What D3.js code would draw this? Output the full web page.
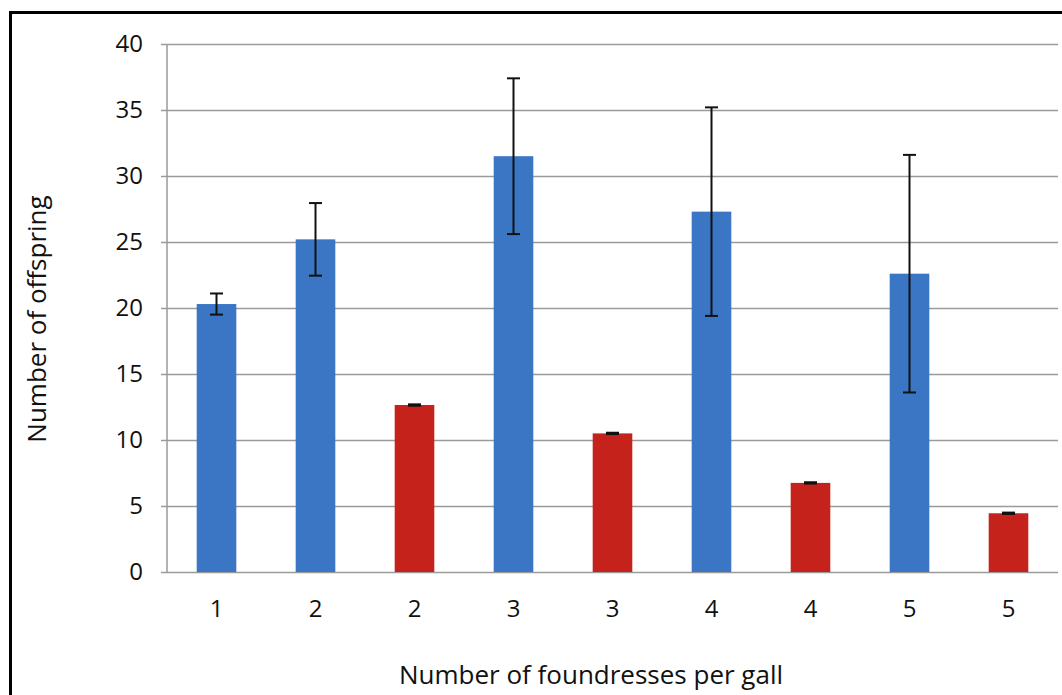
<!DOCTYPE html>
<html>
<head>
<meta charset="utf-8">
<script src="https://cdn.jsdelivr.net/npm/d3@7.9.0/dist/d3.min.js"></script>
<style>
  body { margin: 0; background: #fff; }
  svg { display: block; }
  svg text { font-family: 'Open Sans', sans-serif; }
</style>
</head>
<body>
<svg id="chart" width="1062" height="695"></svg>
<script>
// DATA
const categories = ['1', '2', '2', '3', '3', '4', '4', '5', '5'];
const groups = ['blue', 'blue', 'red', 'blue', 'red', 'blue', 'red', 'blue', 'red'];
const means = [20.3, 25.2, 12.65, 31.5, 10.5, 27.3, 6.75, 22.6, 4.45];
const errors = [0.8, 2.75, 0.05, 5.9, 0.05, 7.9, 0.05, 9.0, 0.05];
const yTicks = [0, 5, 10, 15, 20, 25, 30, 35, 40];

const colors = { blue: '#3b76c4', red: '#c4221b' };
const font = "'Open Sans', sans-serif";

const svg = d3.select('#chart');
const margin = { left: 167, top: 44, right: 4, bottom: 123 };
const W = 1062, H = 695;
const width = W - margin.left - margin.right;
const height = H - margin.top - margin.bottom;

// frame (top + left edges of the scanned border)
svg.append('rect')
  .attr('x', 10.5).attr('y', 12.5)
  .attr('width', 1100).attr('height', 800)
  .attr('fill', 'none')
  .attr('stroke', '#000')
  .attr('stroke-width', 3);

const g = svg.append('g')
  .attr('transform', `translate(${margin.left},${margin.top})`);

const x = d3.scaleBand()
  .domain(categories.map((d, i) => i))
  .range([0, width])
  .paddingInner(0.6)
  .paddingOuter(0.3);

const y = d3.scaleLinear()
  .domain([0, 40])
  .range([height, 0]);

// gridlines + y axis
const yAxis = g.append('g')
  .call(d3.axisLeft(y).tickValues(yTicks).tickSize(-width - 6).tickPadding(18))
  .attr('transform', 'translate(-6,0)')
  .attr('font-family', font);
yAxis.select('.domain').remove();
yAxis.selectAll('.tick line')
  .attr('stroke', '#9a9a9a')
  .attr('stroke-width', 1.5);
yAxis.selectAll('.tick text')
  .attr('font-size', 24)
  .attr('fill', '#111');

g.append('line')
  .attr('x1', 0).attr('x2', 0)
  .attr('y1', 0).attr('y2', height)
  .attr('stroke', '#9a9a9a')
  .attr('stroke-width', 1.5);

// x axis labels
const xAxis = g.append('g')
  .attr('transform', `translate(0,${height})`)
  .call(d3.axisBottom(x).tickFormat(i => categories[i]).tickSize(0).tickPadding(28))
  .attr('font-family', font);
xAxis.select('.domain').remove();
xAxis.selectAll('.tick text')
  .attr('font-size', 24)
  .attr('fill', '#111');

// bars
g.selectAll('.bar')
  .data(means)
  .join('rect')
  .attr('class', 'bar')
  .attr('x', (d, i) => x(i))
  .attr('y', d => y(d))
  .attr('width', x.bandwidth())
  .attr('height', d => height - y(d))
  .attr('fill', (d, i) => colors[groups[i]]);

// error bars
const capW = 13;
const err = g.selectAll('.err')
  .data(means)
  .join('g')
  .attr('class', 'err')
  .attr('stroke', '#111')
  .attr('stroke-width', 2);

err.append('line')
  .attr('x1', (d, i) => x(i) + x.bandwidth() / 2)
  .attr('x2', (d, i) => x(i) + x.bandwidth() / 2)
  .attr('y1', (d, i) => y(d + errors[i]))
  .attr('y2', (d, i) => y(d - errors[i]));

[1, -1].forEach(s => {
  err.append('line')
    .attr('x1', (d, i) => x(i) + x.bandwidth() / 2 - capW / 2)
    .attr('x2', (d, i) => x(i) + x.bandwidth() / 2 + capW / 2)
    .attr('y1', (d, i) => y(d + s * errors[i]))
    .attr('y2', (d, i) => y(d + s * errors[i]));
});

// axis titles
svg.append('text')
  .attr('x', 591)
  .attr('y', 684)
  .attr('text-anchor', 'middle')
  .attr('font-size', 26)
  .attr('fill', '#111')
  .text('Number of foundresses per gall');

svg.append('text')
  .attr('transform', 'translate(46,319) rotate(-90)')
  .attr('text-anchor', 'middle')
  .attr('font-size', 26)
  .attr('fill', '#111')
  .text('Number of offspring');
</script>
</body>
</html>
